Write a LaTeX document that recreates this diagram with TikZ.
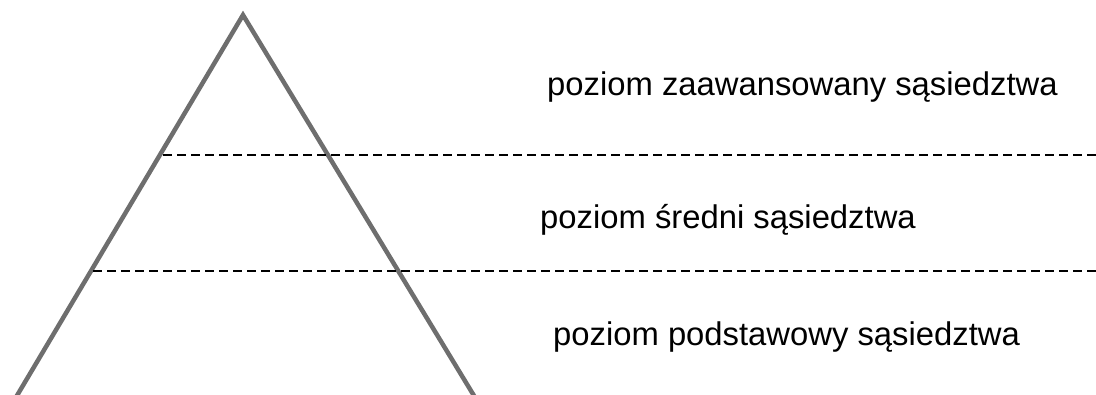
\documentclass[tikz,border=0pt]{standalone}
\usepackage{fontspec}
\setmainfont{Liberation Sans}
\definecolor{tri}{HTML}{6E6E6E}
\begin{document}
\begin{tikzpicture}[x=1bp,y=-1bp,
  edge/.style={draw=tri,line width=4.5bp},
  sep/.style={draw=black,line width=2.2bp,dash pattern=on 9bp off 5bp},
  lbl/.style={anchor=base west,inner sep=0pt,font=\fontsize{32.8bp}{38bp}\selectfont}]
\useasboundingbox (0,0) rectangle (1096,394);
\begin{scope}
\clip (0,0) rectangle (1096,394);
\coordinate (apex) at (243,15);
\coordinate (bl) at (12,404);
\coordinate (br) at (479,404);
\draw[edge] (bl) -- (apex) -- (br);
\end{scope}
\coordinate (s1a) at (163,155);
\coordinate (s1b) at (1096,155);
\coordinate (s2a) at (93,271);
\coordinate (s2b) at (1096,271);
\draw[sep] (s1a) -- (s1b);
\draw[sep] (s2a) -- (s2b);
\node[lbl] (t1) at (547,95) {poziom zaawansowany sąsiedztwa};
\node[lbl] (t2) at (540,228) {poziom średni sąsiedztwa};
\node[lbl] (t3) at (553,345) {poziom podstawowy sąsiedztwa};
\end{tikzpicture}
\end{document}
